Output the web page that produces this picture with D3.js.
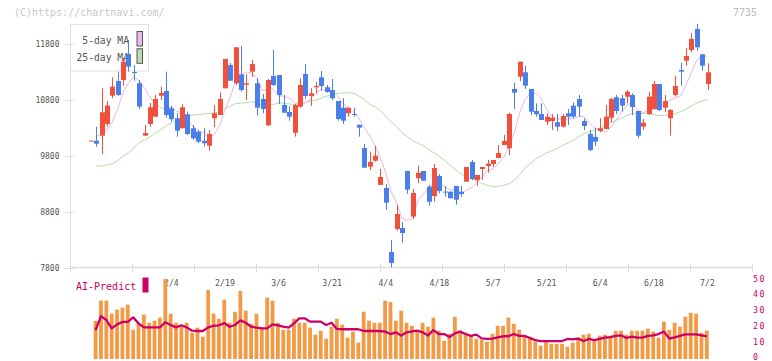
<!DOCTYPE html>
<html><head><meta charset="utf-8">
<script src="https://cdn.jsdelivr.net/npm/d3@7"></script>
<style>body{margin:0;background:#fff}svg{display:block}</style>
</head><body><svg id="c" width="772" height="361"></svg>
<script>
const dates = ["1/14","1/15","1/16","1/17","1/20","1/21","1/22","1/23","1/24","1/27","1/28","1/29","1/30","1/31",
"2/3","2/4","2/5","2/6","2/7","2/10","2/12","2/13","2/14","2/17","2/18","2/19","2/20","2/21","2/25","2/26","2/27","2/28",
"3/3","3/4","3/5","3/6","3/7","3/10","3/11","3/12","3/13","3/14","3/17","3/18","3/19","3/21","3/24","3/25","3/26","3/27","3/28","3/31",
"4/1","4/2","4/3","4/4","4/7","4/8","4/9","4/10","4/11","4/14","4/15","4/16","4/17","4/18","4/21","4/22","4/23","4/24","4/25","4/28","4/30",
"5/1","5/2","5/7","5/8","5/9","5/12","5/13","5/14","5/15","5/16","5/19","5/20","5/21","5/22","5/23","5/26","5/27","5/28","5/29","5/30",
"6/2","6/3","6/4","6/5","6/6","6/9","6/10","6/11","6/12","6/13","6/16","6/17","6/18","6/19","6/20","6/23","6/24","6/25","6/26","6/27","6/30",
"7/1","7/2"];
const open = [10075,10073,10163,10372,10877,11140,11157,11622,11300,11099,10163,10372,10502,10877,10961,10652,10474,10295,10545,10295,
10234,10073,9984,10474,10532,11009,11425,11099,11259,11073,11306,11099,10818,10348,11229,11247,10711,10586,10216,10681,
11265,10872,11027,11206,11027,10979,10782,10663,10563,10550,10359,9943,9609,9716,9282,9229,8086,8497,8515,9532,
8717,9402,9532,9252,9086,9443,9165,9163,9265,9163,9341,9693,9371,9568,9622,9657,9765,9997,9938,10997,
11216,11295,10997,10604,10550,10413,10425,10402,10324,10563,10699,10818,10425,10193,10140,10247,10282,10484,10849,10831,
10859,10890,10604,10324,10550,10640,11086,10663,10474,10890,11336,11502,11693,12068,11616,11086];
const high = [10075,10324,11009,10782,11206,11306,11556,11872,11425,11157,10354,10747,10890,11038,11306,10699,10563,10723,10591,10354,
10265,10300,10265,10711,10938,11532,11460,11741,11765,11259,11515,11193,10907,11175,11693,11247,10890,10693,10729,11188,
11443,11009,11122,11318,11068,11175,10782,10831,10663,10663,10359,10015,9877,9979,9568,9300,8300,8925,8622,9532,
9211,9627,9532,9282,9657,9479,9265,9163,9265,9265,9604,9729,9461,9604,9729,9729,9997,10175,10573,11109,
11484,11413,10997,10741,10741,10563,10550,10550,10550,10640,10752,10890,10474,10265,10306,10474,10711,10841,10890,10890,
10979,10920,10604,10461,10948,11140,11086,10890,10640,11229,11466,11724,11991,12157,11616,11456];
const low = [10075,9966,9831,10324,10831,10872,11056,11306,11145,10634,10163,10324,10502,10800,10484,10413,10145,10295,10175,10086,
10032,9966,9895,10313,10532,11009,11140,11068,10948,10800,11211,10520,10563,10336,11050,10729,10573,10431,10145,10663,
10823,10693,10920,10966,10931,10800,10431,10372,10502,10502,10145,9591,9550,9698,9282,8836,7813,8466,8252,9127,
8675,9313,9359,8913,8984,9134,9073,9045,8931,9073,9341,9371,9270,9371,9502,9604,9765,9997,9818,10640,
11140,10997,10532,10502,10443,10354,10265,10247,10306,10354,10474,10502,10265,9890,9979,10224,10282,10402,10545,10591,
10741,10532,10116,10265,10532,10640,10604,10591,10163,10859,11056,11413,11652,11681,11324,10979];
const close = [10075,10020,10581,10699,11038,10890,11484,11395,11282,10681,10211,10670,10818,10925,10532,10456,10252,10670,10193,10116,
10056,10027,10193,10563,10818,11532,11145,11741,10979,11099,11443,10663,10640,11157,11068,10890,10573,10502,10711,11068,
10872,10920,11050,11050,10943,10831,10461,10431,10663,10532,10306,9591,9693,9806,9425,8966,7890,8765,8425,9199,
9140,9502,9359,8984,9586,9175,9150,9045,9020,9122,9604,9389,9461,9604,9663,9729,9854,10068,10550,10931,
11484,11056,10591,10545,10443,10502,10484,10324,10515,10502,10502,10681,10336,9907,10056,10295,10502,10818,10604,10699,
10948,10675,10163,10395,10859,11086,10622,10782,10622,11050,11306,11586,11890,11741,11413,11295];
const volume = [null,23.9,36.7,36.7,28.5,31,32.3,34.2,18.4,22.2,27.9,22.8,24.1,26,50.3,28.5,22.8,20.9,22.8,16.5,
19.7,14,43.4,28.5,25.3,37.3,22.8,29.7,42.8,30.4,22.2,28.5,19.7,38.6,36.7,22.8,18.4,18.4,25.3,22.8,
22.8,19.7,15.3,17.8,12.8,20.3,25.3,21.6,13.4,17.2,10.3,29.7,24.1,22.8,22.8,36.7,35.8,24.1,30.4,22.8,
20.9,17.2,22.8,20.3,26,17.8,11.5,15.9,26.6,17.8,16.5,14.7,12.8,12.1,10.9,15.9,20.9,20.9,26,22.2,
18.4,14.7,14,10.9,8.4,10.9,9.6,9.6,9.6,7.7,10.3,13.4,15.3,15.9,12.1,14.7,15.3,14.7,17.8,17.8,
15.3,17.8,17.8,17.8,19.1,17.2,13.4,23.5,18.4,22.8,20.3,26.6,29.1,28.5,16.5,17.8];
const aiPredict = [null,18.2,27,24.5,19.3,21.8,23.3,23.3,26.2,22.4,19.9,19.9,19.9,19.9,23.1,21.4,19.9,21.2,19.9,17.8,
17.6,17.6,19.9,20.9,21.2,22.6,20.3,21.4,24.3,22.8,20.3,19.7,19.3,19.3,21.8,21.2,20.3,19.7,22.4,25.6,
25.6,23.5,23.5,23.5,21.4,22.8,18.9,18.7,18.7,18.7,18.7,17.6,17.6,17.6,17.6,17.2,15.7,16.8,14.7,16.8,
17.4,17.8,16.8,14.7,18.2,15.7,15.7,13.8,16.1,17.2,15.7,14.5,15.3,13,12.6,12.8,13.6,14.3,14.3,15.7,
14.5,14.5,13.2,11.9,11.3,11.3,11.3,11.3,11.3,12.6,12.4,12.8,11.3,12.6,11.9,12.6,13.4,13.8,14.5,14.9,
13.2,14.1,13.4,13.4,14.5,14.9,15.7,17.2,12.8,13.6,14.5,15.5,15.5,15.5,14.9,14.3];
const ma5Head = [10145,10193,10265,10407];
const ma25Head = [9622,9622,9640,9666,9711,9800,9854,9943,10041,10086,10140,10211,10265,10336,10390,10452,10479,10515,10532,10541,10550,10559,10568,10586];
const priceTicks = [7800,8800,9800,10800,11800];
const dateLabels = ["2/4","2/19","3/6","3/21","4/4","4/18","5/7","5/21","6/4","6/18","7/2"];
const subTicks = [0,10,20,30,40,50];

const ma5 = close.map((c,i)=> i===0?null : (i<5? ma5Head[i-1] : d3.mean(close.slice(i-4,i+1))));
const ma25 = close.map((c,i)=> i===0?null : (i<25? ma25Head[i-1] : d3.mean(close.slice(i-24,i+1))));

const FONT = "'DejaVu Sans Mono', monospace";
const RED = "#f0503c", BLUE = "#4a7ee8", MAG = "#cc0066";
const svg = d3.select("#c");
const x = d3.scalePoint().domain(dates).range([90.94, 707.5]);
const y = d3.scaleLinear().domain([7800, 11800]).range([268, 44]);
const ys = d3.scaleLinear().domain([0, 50]).range([359, 279.5]);
const grid = d3.scaleLinear().domain([0, 11]).range([70.5, 752.5]);

// header texts
svg.append("text").attr("x",14).attr("y",16).attr("font-family",FONT).attr("font-size",10).attr("fill","#c8c8c8").text("(C)https://chartnavi.com/");
svg.append("text").attr("x",757).attr("y",16).attr("text-anchor","end").attr("font-family",FONT).attr("font-size",10).attr("fill","#bbb").text("7735");

// legend box (drawn under candles)
const lg = svg.append("g");
lg.append("rect").attr("x",70.5).attr("y",24.5).attr("width",78).attr("height",46.5).attr("fill","none").attr("stroke","#e0e0e0");
lg.append("text").attr("x",129).attr("y",43.5).attr("text-anchor","end").attr("font-family",FONT).attr("font-size",9.7).attr("fill","#555").text("5-day MA");
lg.append("text").attr("x",129).attr("y",60.8).attr("text-anchor","end").attr("font-family",FONT).attr("font-size",9.7).attr("fill","#555").text("25-day MA");
lg.append("rect").attr("x",137).attr("y",31.5).attr("width",5.5).attr("height",14.5).attr("fill","#ebb9eb").attr("stroke","#555");
lg.append("rect").attr("x",137).attr("y",48.8).attr("width",5.5).attr("height",14.5).attr("fill","#bcdcb0").attr("stroke","#555");

// y axis
const ax = svg.append("g").attr("transform","translate(70.5,0)")
  .call(d3.axisLeft(y).tickValues(priceTicks).tickSizeInner(5).tickSizeOuter(0).tickPadding(6).tickFormat(d3.format("d")));
ax.select(".domain").remove();
ax.selectAll(".tick line").attr("x1",4).attr("x2",-6).attr("stroke","#ddd");
ax.selectAll(".tick text").attr("font-family",FONT).attr("font-size",8).attr("fill","#555");
svg.append("line").attr("x1",70.5).attr("x2",70.5).attr("y1",24).attr("y2",268).attr("stroke","#ddd");

// x axis line and ticks
svg.append("line").attr("x1",70).attr("x2",752.5).attr("y1",267.5).attr("y2",267.5).attr("stroke","#ddd").attr("stroke-width",1.3);
svg.append("g").selectAll("line").data(d3.range(0,12)).join("line")
  .attr("x1",d=>grid(d)).attr("x2",d=>grid(d)).attr("y1",264).attr("y2",272).attr("stroke","#ddd");
svg.append("g").selectAll("text").data(dateLabels).join("text")
  .attr("x",d=>x(d)).attr("y",285.5).attr("text-anchor","middle").attr("font-family",FONT).attr("font-size",8.2).attr("fill","#555").text(d=>d);

// MA lines
const line = d3.line().defined(d=>d[1]!=null).x(d=>x(d[0])).y(d=>y(d[1]));
svg.append("path").attr("d",line(dates.map((d,i)=>[d,ma25[i]]))).attr("fill","none").attr("stroke","#b5dca5").attr("stroke-width",1);
svg.append("path").attr("d",line(dates.map((d,i)=>[d,ma5[i]]))).attr("fill","none").attr("stroke","#ebb4eb").attr("stroke-width",1);

// candles
const cd = dates.map((d,i)=>({d,o:open[i],h:high[i],l:low[i],c:close[i]}));
const cg = svg.append("g");
cg.selectAll("line").data(cd).join("line")
  .attr("x1",d=>Math.round(x(d.d))+0.5).attr("x2",d=>Math.round(x(d.d))+0.5)
  .attr("y1",d=>y(d.h)).attr("y2",d=>y(d.l))
  .attr("stroke",d=>d.c>=d.o?RED:BLUE).attr("stroke-width",1);
cg.selectAll("rect").data(cd).join("rect")
  .attr("x",d=>Math.round(x(d.d))-2).attr("width",5)
  .attr("y",d=>y(Math.max(d.o,d.c))).attr("height",d=>Math.max(1,y(Math.min(d.o,d.c))-y(Math.max(d.o,d.c))))
  .attr("fill",d=>d.c>=d.o?RED:BLUE);

// sub panel: AI-Predict label
svg.append("text").attr("x",76).attr("y",289.5).attr("font-family",FONT).attr("font-size",10).attr("fill",MAG).text("AI-Predict");
svg.append("rect").attr("x",142.5).attr("y",277.5).attr("width",6).attr("height",15).attr("fill",MAG);

// volume bars
svg.append("g").selectAll("rect").data(dates.map((d,i)=>({d,v:volume[i]})).filter(e=>e.v!=null)).join("rect")
  .attr("x",e=>x(e.d)-2.6).attr("width",3.8)
  .attr("y",e=>ys(e.v)).attr("height",e=>ys(0)-ys(e.v)).attr("fill","#f29a45");

// AI predict line
const aline = d3.line().defined(d=>d[1]!=null).x(d=>x(d[0])-0.7).y(d=>ys(d[1]));
svg.append("path").attr("d",aline(dates.map((d,i)=>[d,aiPredict[i]]))).attr("fill","none").attr("stroke",MAG).attr("stroke-width",2.3).attr("stroke-linejoin","round");

// right axis labels
svg.append("g").selectAll("text").data(subTicks).join("text")
  .attr("x",753).attr("y",d=>Math.min(ys(d)+2,359.5)).attr("font-family",FONT).attr("font-size",8.3).attr("letter-spacing",1.5).attr("fill",MAG).text(d=>d);
</script></body></html>
